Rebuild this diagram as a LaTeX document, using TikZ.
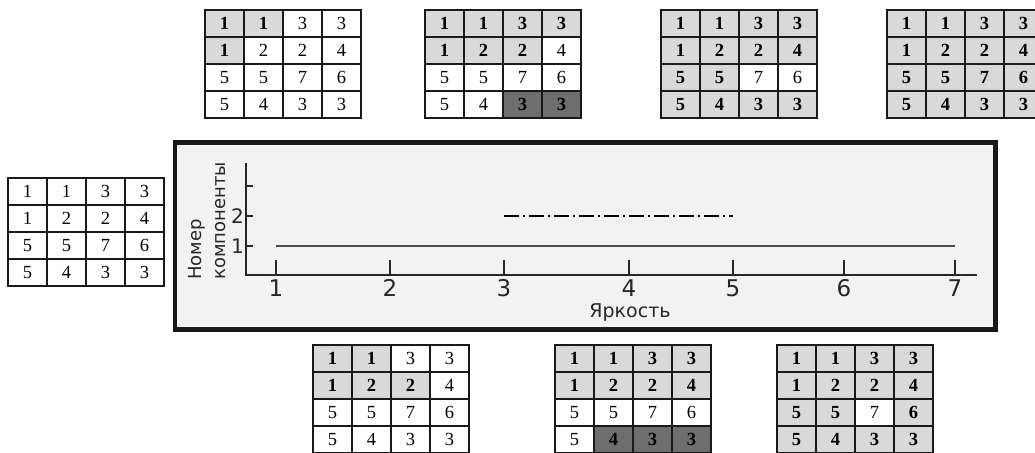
\documentclass[tikz,border=0pt]{standalone}
\usepackage{fontspec}
\setmainfont{Liberation Serif}
\newfontfamily\axisfont{DejaVu Sans}
\usepackage{xcolor}
\usetikzlibrary{positioning}

\definecolor{panelgray}{HTML}{F2F2F2}
\definecolor{lightcell}{HTML}{D9D9D9}
\definecolor{darkcell}{HTML}{6E6E6E}

% 4x4 brightness grid: name, left, top, shading of the 16 cells
\newcommand{\cellgrid}[4]{%
  \foreach \s [count=\i from 0] in {#4} {
    \pgfmathtruncatemacro\rowi{int(\i/4)}
    \pgfmathtruncatemacro\coli{mod(\i,4)}
    \pgfmathtruncatemacro\val{{1,1,3,3,1,2,2,4,5,5,7,6,5,4,3,3}[\i]}
    \node[\s] (#1\rowi\coli) at (#2+\coli*39+19.5, #3+\rowi*27+13.5) {\val};
  }%
}

\begin{document}
\begin{tikzpicture}[x=1pt, y=-1pt,
  cellbase/.style={rectangle, draw=black!90, line width=1.8pt,
                   minimum width=39pt, minimum height=27pt, inner sep=0pt,
                   font=\fontsize{18.5}{18.5}\selectfont},
  wt/.style={cellbase, fill=white},
  lt/.style={cellbase, fill=lightcell, font=\fontsize{18.5}{18.5}\selectfont\bfseries},
  dk/.style={cellbase, fill=darkcell, font=\fontsize{18.5}{18.5}\selectfont\bfseries},
  axis/.style={line width=1.3pt, draw=black!85},
  ticklabel/.style={font=\axisfont\fontsize{23}{23}\selectfont, text=black!85},
  ylabel/.style={font=\axisfont\fontsize{20}{20}\selectfont, text=black!85}
]
\useasboundingbox (0,0) rectangle (1035,452);

% top row
\cellgrid{ta}{205}{10}{lt,lt,wt,wt,lt,wt,wt,wt,wt,wt,wt,wt,wt,wt,wt,wt}
\cellgrid{tb}{425}{10}{lt,lt,lt,lt,lt,lt,lt,wt,wt,wt,wt,wt,wt,wt,dk,dk}
\cellgrid{tc}{661}{10}{lt,lt,lt,lt,lt,lt,lt,lt,lt,lt,wt,wt,lt,lt,lt,lt}
\cellgrid{td}{887}{10}{lt,lt,lt,lt,lt,lt,lt,lt,lt,lt,lt,lt,lt,lt,lt,lt}
% source image
\cellgrid{src}{8}{178}{wt,wt,wt,wt,wt,wt,wt,wt,wt,wt,wt,wt,wt,wt,wt,wt}
% bottom row
\cellgrid{ba}{313}{345}{lt,lt,wt,wt,lt,lt,lt,wt,wt,wt,wt,wt,wt,wt,wt,wt}
\cellgrid{bb}{555}{345}{lt,lt,lt,lt,lt,lt,lt,lt,wt,wt,wt,wt,wt,dk,dk,dk}
\cellgrid{bc}{777}{345}{lt,lt,lt,lt,lt,lt,lt,lt,lt,lt,wt,lt,lt,lt,lt,lt}

% chart panel
\draw[line width=4.5pt, draw=black!90, fill=panelgray] (175,142.5) rectangle (995.5,329.5);
\coordinate (o) at (246,275);
\coordinate (ytop) at (246,163);
\coordinate (xend) at (977,275);
\draw[axis] (ytop) -- (o) -- (xend);
\foreach \k/\xk in {1/276,2/390,3/504,4/629,5/733,6/844,7/955} {
  \draw[axis] (\xk,275) -- (\xk,260);
  \node[ticklabel] (xt\k) at (\xk,288) {\k};
}
\foreach \k/\yk in {1/246,2/216,3/186}
  \draw[axis] (246,\yk) -- (253,\yk);
\node[ylabel, anchor=east, inner sep=1pt] (yt1) at (245,246) {1};
\node[ylabel, anchor=east, inner sep=1pt] (yt2) at (245,216) {2};

% components
\coordinate (c1s) at (276,246);
\coordinate (c1e) at (955,246);
\draw[line width=1.2pt, black!70] (c1s) -- (c1e);
\coordinate (c2s) at (504,216);
\coordinate (c2e) at (733,216);
\draw[line width=1.5pt, dash pattern=on 15pt off 4pt on 2pt off 4pt] (c2s) -- (c2e);

\node[font=\axisfont\fontsize{19}{19}\selectfont, text=black!85] (xname) at (630,313) {Яркость};
\node[rotate=90, align=left, font=\axisfont\fontsize{18}{24}\selectfont, text=black!85]
  (yname) at (207,221) {Номер\\компоненты};
\end{tikzpicture}
\end{document}
